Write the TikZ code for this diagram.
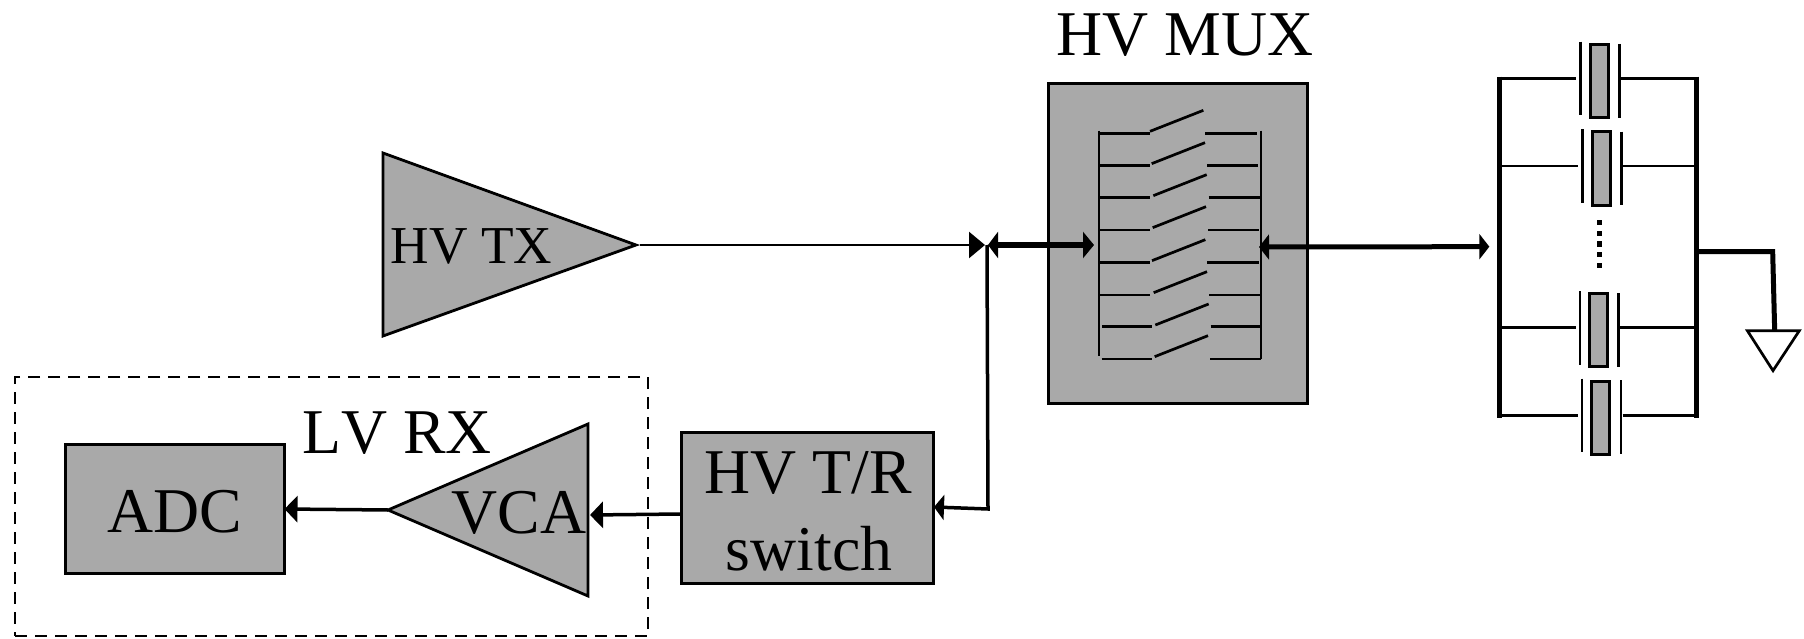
\documentclass[tikz,border=0pt]{standalone}
\usepackage{fontspec}
\setmainfont[Kerning=Off]{Liberation Serif}
\usetikzlibrary{arrows.meta}
\definecolor{blockgray}{HTML}{A9A9A9}
\tikzset{
  px/.style={x=1bp,y=-1bp},
  blockbox/.style={draw=black,fill=blockgray,line width=3bp,rectangle,inner sep=0pt,outer sep=0pt},
  blockpoly/.style={draw=black,fill=blockgray,line width=2.8bp,line join=miter},
  bigtext/.style={font=\fontsize{64}{68}\selectfont,anchor=base,inner sep=0pt},
  midtext/.style={font=\fontsize{53.5}{60}\selectfont,anchor=base,inner sep=0pt},
  thinwire/.style={draw=black,line width=2.7bp},
  medwire/.style={draw=black,line width=3.5bp},
  heavywire/.style={draw=black,line width=5bp},
  barwire/.style={draw=black,line width=5bp},
  pzt/.style={draw=black,fill=blockgray,line width=3bp}
}
\newcommand{\swrow}[5]{%
  \draw[thinwire] (#1,#2) -- ++(150,0);
  \draw[thinwire] (#3,#4) -- ++(160,-63);
  \draw[thinwire] (#5,#2) -- ++(154,0);
}
\newcommand{\xdcr}[8]{%
  \node[pzt,rectangle,inner sep=0pt,outer sep=0pt,anchor=north west,minimum width=52bp/3,minimum height=219bp/3] (#8) at (#4,#5) {};
  \draw[thinwire] (#2,#3) -- ++(0,221);
  \draw[thinwire] (#6,#7) -- ++(0,221);
  \draw[thinwire] (95,#1) -- (#2-13,#1);
  \draw[thinwire] (#6+5,#1) -- (672,#1);
}
\begin{document}
\begin{tikzpicture}[px]
\useasboundingbox (0,0) rectangle (1804,639);
% LV RX enclosure
\node[draw=black,line width=2.4bp,dash pattern=on 12bp off 8bp,rectangle,inner sep=0pt,minimum width=633bp,minimum height=259bp,anchor=north west] (rxbox) at (14,376) {};
% HV TX
\coordinate (txa) at (383,153);
\coordinate (txtip) at (636,245);
\coordinate (txb) at (383,336);
\draw[blockpoly] (txa) -- (txtip) -- (txb) -- cycle;
\node[midtext] (txlabel) at (471.5,264) {HV TX};
% HV MUX
\node[blockbox,minimum width=259bp,minimum height=320bp] (mux) at (1178,243.5) {};
\node[bigtext] (muxlabel) at (1185,56) {HV MUX};
\begin{scope}[shift={(940,60)},x=1bp/3,y=-1bp/3]
  \swrow{480}{220}{630}{214}{796}
  \swrow{480}{317}{635}{311}{801}
  \swrow{480}{412}{640}{407}{806}
  \swrow{480}{510}{638}{503}{804}
  \swrow{480}{608}{636}{602}{802}
  \swrow{480}{705}{641}{698}{807}
  \swrow{487}{800}{646}{795}{812}
  \swrow{485}{897}{644}{890}{810}
  \draw[thinwire] (477,212) -- (477,887);
  \draw[thinwire] (963,212) -- (963,897);
\end{scope}
\coordinate (muxl) at (1094,245);
\coordinate (muxr) at (1259,247);
% ADC
\node[blockbox,minimum width=219bp,minimum height=129bp] (adc) at (175,509) {};
\node[bigtext] (adclabel) at (175,532) {ADC};
% VCA
\coordinate (vcaapex) at (388,510);
\coordinate (vcatop) at (588,424);
\coordinate (vcabot) at (588,596);
\coordinate (vcain) at (590,515);
\draw[blockpoly] (vcaapex) -- (vcatop) -- (vcabot) -- cycle;
\node[bigtext] (vcalabel) at (519,533) {VCA};
\node[bigtext] (rxlabel) at (397,453) {LV RX};
% T/R switch
\node[blockbox,minimum width=252bp,minimum height=151bp] (tr) at (807.5,507.5) {};
\node[bigtext] (trlabel) at (808,493) {HV T/R};
\node[bigtext] (swlabel) at (809,570) {switch};
% Transducer array
\begin{scope}[shift={(1470,20)},x=1bp/3,y=-1bp/3]
  \coordinate (lbt) at (89,170); \coordinate (lbb) at (89,1195);
  \coordinate (rbt) at (679,170); \coordinate (rbb) at (679,1195);
  \coordinate (arrin) at (58,680);
  \draw[barwire] (lbt) -- (lbb);
  \draw[barwire] (rbt) -- (rbb);
  \xdcr{175}{332}{65}{362}{73}{449}{72}{xa}
  \xdcr{438}{338}{328}{368}{336}{455}{335}{xb}
  \xdcr{922}{330}{813}{359}{821}{446}{819}{xc}
  \xdcr{1186}{336}{1076}{365}{1083}{453}{1081}{xd}
  \foreach \yy in {608,640,672,704,736} \fill[black] (380,\yy-8) rectangle (396,\yy+8);
  \coordinate (gndtap) at (684,695);
  \coordinate (gndcorner) at (908,695);
  \coordinate (gndl) at (832,932);
  \coordinate (gndr) at (988,932);
  \coordinate (gndtip) at (909,1052);
  \coordinate (gndin) at (914,932);
\end{scope}
\draw[heavywire] (gndtap) -- (gndcorner) -- (gndin);
\draw[thinwire,fill=white] (gndl) -- (gndr) -- (gndtip) -- cycle;
% Connectors
\coordinate (jtxin) at (985,245);
\coordinate (jmux) at (988,245);
\coordinate (jv) at (987,245);
\coordinate (jc) at (988,509);
\coordinate (trin) at (934,507);
\coordinate (txout) at (640,245);
\draw[thinwire,-{Triangle[length=16bp,width=26bp]}] (txout) -- (jtxin);
\draw[heavywire,{Triangle[length=10bp,width=26bp]}-{Triangle[length=11bp,width=26bp]}] (jmux) -- (muxl);
\draw[heavywire,{Triangle[length=10bp,width=25bp]}-{Triangle[length=10bp,width=25bp]}] (muxr) -- (arrin);
\draw[medwire,-{Triangle[length=10bp,width=25bp]}] (jv) -- (jc) -- (trin);
\draw[medwire,-{Triangle[length=13bp,width=26bp]}] (tr.west |- 0,514) -- (vcain);
\draw[medwire,-{Triangle[length=13bp,width=26bp]}] (vcaapex) -- (adc.east);
\end{tikzpicture}
\end{document}
